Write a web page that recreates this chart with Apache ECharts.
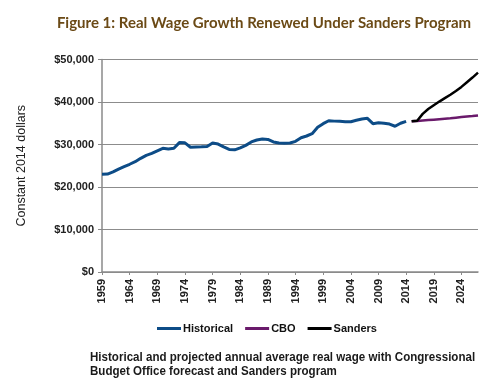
<!DOCTYPE html>
<html><head><meta charset="utf-8">
<script src="https://cdn.jsdelivr.net/npm/echarts@6/dist/echarts.min.js"></script>
<style>html,body{margin:0;padding:0;background:#fff}#c{width:500px;height:390px}</style>
</head><body><div id="c"></div>
<script>
// Years on the category axis
var startYear = 1959, endYear = 2027;
var years = [];
for (var y = startYear; y <= endYear; y++) years.push(String(y));

// Historical real wage, 1959-2014 (constant 2014 dollars)
var historicalStart = 1959;
var historical = [23000,23050,23550,24200,24800,25350,25950,26750,27450,27900,
  28500,29100,28950,29100,30450,30400,29350,29400,29450,29550,
  30350,30100,29450,28850,28750,29200,29800,30600,31050,31300,
  31200,30600,30350,30300,30350,30750,31600,32000,32550,34050,
  34900,35600,35500,35450,35350,35350,35700,36000,36150,34900,
  35100,35000,34800,34300,35000,35450];

// Projections, 2015-2027
var projStart = 2015;
var cbo = [35450,35550,35650,35750,35850,35950,36050,36150,36300,36450,36600,36700,36850];
var sanders = [35450,35600,37200,38350,39250,40100,40900,41700,42600,43550,44650,45750,46900];

function pad(arr, from) {
  var out = [];
  for (var i = 0; i < years.length; i++) {
    var k = (startYear + i) - from;
    out.push(k >= 0 && k < arr.length ? arr[k] : '-');
  }
  return out;
}

var chart = echarts.init(document.getElementById('c'), null, {renderer:'canvas'});
var sans = '"Liberation Sans", Arial, sans-serif';
chart.setOption({
  animation:false,
  title:{text:'Figure 1: Real Wage Growth Renewed Under Sanders Program',
    left:259, textAlign:'center', top:11,
    textStyle:{fontFamily:'Lato, "Open Sans", sans-serif', fontWeight:'bold', fontSize:15, color:'#6b4a16'}},
  grid:{left:102, right:22, top:59.5, bottom:118, containLabel:false},
  legend:{left:152, top:318, itemWidth:24, itemHeight:3, itemGap:12, icon:'rect',
    textStyle:{fontFamily:sans, fontSize:11, fontWeight:'bold', color:'#111', padding:[0,0,0,-3]},
    data:['Historical','CBO','Sanders']},
  xAxis:{type:'category', data:years, boundaryGap:false,
    axisLine:{lineStyle:{color:'#8a8a8a', width:1.5}},
    axisTick:{interval:4, length:3, lineStyle:{color:'#8a8a8a'}},
    axisLabel:{interval:4, rotate:90, fontFamily:sans, fontWeight:'bold', fontSize:11, color:'#222', margin:7}},
  yAxis:{type:'value', min:0, max:50000, interval:10000,
    name:'Constant 2014 dollars', nameLocation:'middle', nameGap:74, nameRotate:90,
    nameTextStyle:{fontFamily:sans, fontSize:12.5, color:'#222'},
    axisLine:{show:true, lineStyle:{color:'#8a8a8a', width:1.5}},
    axisTick:{show:true, length:4, lineStyle:{color:'#8a8a8a'}},
    splitLine:{lineStyle:{color:'#8c8c8c', width:1.2}},
    axisLabel:{fontFamily:sans, fontWeight:'bold', fontSize:11, color:'#222', margin:8,
      formatter:function(v){ return '$' + v.toLocaleString('en-US'); }}},
  series:[
    {name:'Historical', type:'line', data:pad(historical, historicalStart), showSymbol:false, symbol:'none',
      lineStyle:{color:'#0d4c87', width:3}, itemStyle:{color:'#0d4c87'}},
    {name:'CBO', type:'line', data:pad(cbo, projStart), showSymbol:false, symbol:'none',
      lineStyle:{color:'#6a1a6b', width:2.5}, itemStyle:{color:'#6a1a6b'}},
    {name:'Sanders', type:'line', data:pad(sanders, projStart), showSymbol:false, symbol:'none',
      lineStyle:{color:'#000', width:2.5}, itemStyle:{color:'#000'}}
  ],
  graphic:[{type:'text', x:90, y:351, scaleX:0.89,
    style:{text:'Historical and projected annual average real wage with Congressional\nBudget Office forecast and Sanders program',
      font:'bold 13px ' + sans, fill:'#1a1a1a', lineHeight:13.5}}]
});
</script></body></html>
